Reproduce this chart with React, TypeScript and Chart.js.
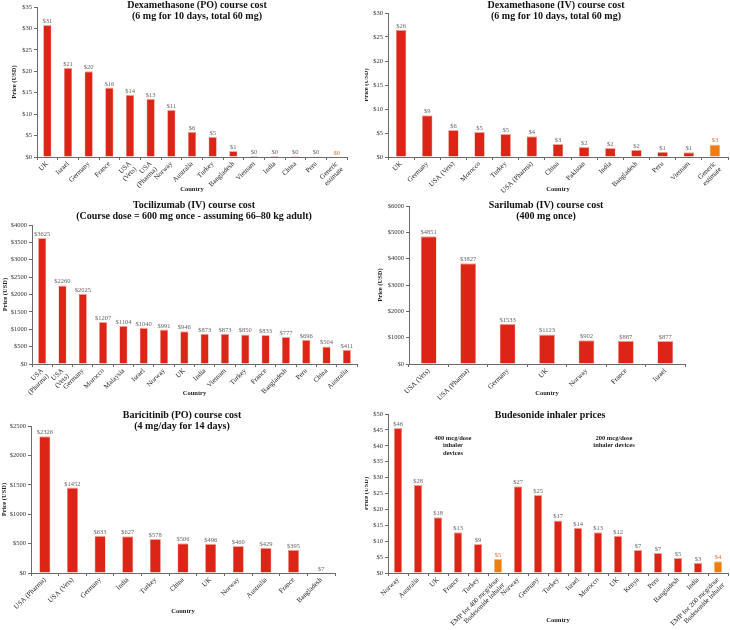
import React, { useEffect, useRef } from "react";
import { Chart, registerables } from "chart.js";

Chart.register(...registerables);

// ---------------- DATA ----------------
const dexPoCategories: (string | string[])[] = ["UK", "Israel", "Germany", "France", ["USA", "(Vets)"], ["USA", "(Pharma)"], "Norway", "Australia", "Turkey", "Bangladesh", "Vietnam", "India", "China", "Peru", ["Generic", "estimate"]];
const dexPoValues = [30.8, 20.8, 20.0, 16.2, 14.5, 13.6, 11.0, 5.9, 4.7, 1.4, 0.3, 0.3, 0.25, 0.2, 0.1];
const dexPoLabels = ["$31", "$21", "$20", "$16", "$14", "$13", "$11", "$6", "$5", "$1", "$0", "$0", "$0", "$0", "$0"];

const dexIvCategories: (string | string[])[] = ["UK", "Germany", "USA (Vets)", "Morocco", "Turkey", "USA (Pharma)", "China", "Pakistan", "India", "Bangladesh", "Peru", "Vietnam", ["Generic", "estimate"]];
const dexIvValues = [26.5, 8.7, 5.6, 5.2, 4.8, 4.3, 2.7, 2.1, 1.9, 1.5, 1.1, 1.0, 2.6];
const dexIvLabels = ["$26", "$9", "$6", "$5", "$5", "$4", "$3", "$2", "$2", "$2", "$1", "$1", "$3"];

const tociCategories: (string | string[])[] = [["USA", "(Pharma)"], ["USA", "(Vets)"], "Germany", "Morocco", "Malaysia", "Israel", "Norway", "UK", "India", "Vietnam", "Turkey", "France", "Bangladesh", "Peru", "China", "Australia"];
const tociValues = [3625, 2260, 2025, 1207, 1104, 1040, 991, 946, 873, 873, 850, 833, 777, 696, 504, 411];
const tociLabels = ["$3625", "$2260", "$2025", "$1207", "$1104", "$1040", "$991", "$946", "$873", "$873", "$850", "$833", "$777", "$696", "$504", "$411"];

const sariCategories: (string | string[])[] = ["USA (Vets)", "USA (Pharma)", "Germany", "UK", "Norway", "France", "Israel"];
const sariValues = [4851, 3827, 1533, 1123, 902, 887, 877];
const sariLabels = ["$4851", "$3827", "$1533", "$1123", "$902", "$887", "$877"];

const bariCategories: (string | string[])[] = ["USA (Pharma)", "USA (Vets)", "Germany", "India", "Turkey", "China", "UK", "Norway", "Australia", "France", "Bangladesh"];
const bariValues = [2326, 1452, 633, 627, 578, 506, 496, 460, 429, 395, 7];
const bariLabels = ["$2326", "$1452", "$633", "$627", "$578", "$506", "$496", "$460", "$429", "$395", "$7"];

const budeCategories: (string | string[])[] = ["Norway", "Australia", "UK", "France", "Turkey", ["EMP for 400 mcg/dose", "Budesonide inhaler"], "Norway", "Germany", "Turkey", "Israel", "Morocco", "UK", "Kenya", "Peru", "Bangladesh", "India", ["EMP for 200 mcg/dose", "Budesonide inhaler"]];
const budeValues = [45.6, 27.7, 17.5, 12.8, 9.1, 4.5, 27.3, 24.5, 16.5, 14.2, 12.8, 11.7, 7.2, 6.3, 4.7, 3.2, 3.7];
const budeLabels = ["$46", "$28", "$18", "$13", "$9", "$5", "$27", "$25", "$17", "$14", "$13", "$12", "$7", "$7", "$5", "$3", "$4"];

// ---------------- STYLE ----------------
const RED = "#dc2417";
const ORANGE = "#ee7e12";
const RED_EDGE = "#f2a79d";
const ORANGE_EDGE = "#f8c48a";
const AXIS = "#6a6a6a";
const FONT = '"Liberation Serif", "DejaVu Serif", serif';

const isHighlight = (c: string | string[]) => {
  const s = Array.isArray(c) ? c.join(" ") : c;
  return s.indexOf("Generic") >= 0 || s.indexOf("EMP") >= 0;
};

type Panel = {
  x: number; y: number; w: number; h: number;
  left: number; top: number; right: number; bottom: number;
  categories: (string | string[])[]; values: number[]; labels: string[];
  max: number; step: number;
  title: string[]; titleX: number; titleY: number;
  yTitleX: number; xTitleY: number;
  notes?: { lines: string[]; x: number; y: number }[];
};

const panels: Panel[] = [
  { x: 0, y: 0, w: 365, h: 200, left: 37, top: 7, right: 347, bottom: 157,
    categories: dexPoCategories, values: dexPoValues, labels: dexPoLabels, max: 35, step: 5,
    title: ["Dexamethasone (PO) course cost", "(6 mg for 10 days, total 60 mg)"], titleX: 197, titleY: 5.5,
    yTitleX: 14, xTitleY: 189 },
  { x: 365, y: 0, w: 365, h: 200, left: 23, top: 13, right: 363, bottom: 157,
    categories: dexIvCategories, values: dexIvValues, labels: dexIvLabels, max: 30, step: 5,
    title: ["Dexamethasone (IV) course cost", "(6 mg for 10 days, total 60 mg)"], titleX: 191, titleY: 5.5,
    yTitleX: 1, xTitleY: 189 },
  { x: 0, y: 200, w: 365, h: 200, left: 32, top: 25, right: 357, bottom: 164,
    categories: tociCategories, values: tociValues, labels: tociLabels, max: 4000, step: 500,
    title: ["Tocilizumab (IV) course cost", "(Course dose = 600 mg once - assuming 66\u201380 kg adult)"], titleX: 194, titleY: 5.5,
    yTitleX: 5, xTitleY: 193 },
  { x: 365, y: 200, w: 365, h: 200, left: 44, top: 6, right: 320, bottom: 164,
    categories: sariCategories, values: sariValues, labels: sariLabels, max: 6000, step: 1000,
    title: ["Sarilumab (IV) course cost", "(400 mg once)"], titleX: 181, titleY: 5.5,
    yTitleX: 15, xTitleY: 193 },
  { x: 0, y: 400, w: 365, h: 230, left: 31, top: 26, right: 335, bottom: 173,
    categories: bariCategories, values: bariValues, labels: bariLabels, max: 2500, step: 500,
    title: ["Baricitinib (PO) course cost", "(4 mg/day for 14 days)"], titleX: 182, titleY: 15,
    yTitleX: 4, xTitleY: 211 },
  { x: 365, y: 400, w: 365, h: 230, left: 23, top: 14, right: 363, bottom: 173,
    categories: budeCategories, values: budeValues, labels: budeLabels, max: 50, step: 5,
    title: ["Budesonide inhaler prices"], titleX: 185, titleY: 15,
    yTitleX: 1, xTitleY: 220,
    notes: [
      { lines: ["400 mcg/dose", "inhaler", "devices"], x: 88, y: 38 },
      { lines: ["200 mcg/dose", "inhaler devices"], x: 249, y: 38 },
    ] },
];

const overlayPlugin = {
  id: "overlay",
  afterDatasetsDraw(chart: any, _args: any, opts: any) {
    const ctx = chart.ctx as CanvasRenderingContext2D;
    const meta = chart.getDatasetMeta(0);
    ctx.save();
    ctx.font = `6.5px ${FONT}`;
    ctx.textAlign = "center";
    ctx.textBaseline = "bottom";
    meta.data.forEach((bar: any, i: number) => {
      ctx.fillStyle = opts.highlight[i] ? "#e0703c" : "#666";
      ctx.fillText(opts.valueLabels[i], bar.x, bar.y - 0.5);
    });
    ctx.fillStyle = "#111";
    ctx.textBaseline = "middle";
    ctx.font = `bold 10px ${FONT}`;
    (opts.title as string[]).forEach((t, i) => ctx.fillText(t, opts.titleX, opts.titleY + i * 11));
    if (opts.notes) {
      ctx.font = `bold 6.5px ${FONT}`;
      ctx.fillStyle = "#222";
      for (const n of opts.notes) {
        n.lines.forEach((l: string, i: number) => ctx.fillText(l, n.x, n.y + i * 7.5));
      }
    }
    ctx.restore();
  },
};

function PanelChart({ p }: { p: Panel }) {
  const ref = useRef<HTMLCanvasElement | null>(null);
  useEffect(() => {
    if (!ref.current) return;
    const highlight = p.categories.map(isHighlight);
    const axisTitleFont = { family: FONT, size: 6.5, weight: "bold" as const, lineHeight: 1.2 };
    const lh = 6.5 * 1.2;
    const chart = new Chart(ref.current, {
      type: "bar",
      data: {
        labels: p.categories as any,
        datasets: [
          {
            data: p.values,
            backgroundColor: highlight.map((h) => (h ? ORANGE : RED)),
            borderColor: highlight.map((h) => (h ? ORANGE_EDGE : RED_EDGE)),
            borderWidth: { top: 1, left: 0.6, right: 0.6, bottom: 0 } as any,
            borderSkipped: "bottom",
            barPercentage: 0.4,
            categoryPercentage: 1,
          },
        ],
      },
      options: {
        responsive: false,
        animation: false,
        devicePixelRatio: 1,
        layout: { padding: { top: p.top, right: p.w - p.right, left: 0, bottom: 0 } },
        plugins: {
          legend: { display: false },
          tooltip: { enabled: false },
          title: { display: false },
          overlay: {
            highlight,
            valueLabels: p.labels,
            title: p.title,
            titleX: p.titleX,
            titleY: p.titleY,
            notes: p.notes,
          },
        } as any,
        scales: {
          x: {
            grid: { drawOnChartArea: false, tickLength: 3, color: AXIS, offset: true },
            border: { color: AXIS, width: 1 },
            ticks: {
              minRotation: 45,
              maxRotation: 45,
              autoSkip: false,
              padding: 0,
              color: "#222",
              font: { family: FONT, size: 7, lineHeight: 1.1 },
            },
            title: {
              display: true,
              text: "Country",
              color: "#222",
              font: axisTitleFont,
              padding: { top: 0, bottom: p.h - p.xTitleY - lh / 2 },
            },
            afterFit: (s: any) => {
              s.height = p.h - p.bottom;
            },
          },
          y: {
            min: 0,
            max: p.max,
            grid: { drawOnChartArea: false, tickLength: 3, color: AXIS },
            border: { color: AXIS, width: 1 },
            ticks: {
              stepSize: p.step,
              padding: 2,
              color: "#333",
              font: { family: FONT, size: 6.5 },
              callback: (v: any) => "$" + v,
            },
            title: {
              display: true,
              text: "Price (USD)",
              color: "#222",
              font: axisTitleFont,
              padding: { top: p.yTitleX - lh / 2, bottom: 0 },
            },
            afterFit: (s: any) => {
              s.width = p.left;
            },
          },
        },
      },
      plugins: [overlayPlugin as any],
    });
    return () => chart.destroy();
  }, [p]);
  return (
    <canvas
      ref={ref}
      width={p.w}
      height={p.h}
      style={{ position: "absolute", left: p.x, top: p.y, width: p.w, height: p.h }}
    />
  );
}

export default function App() {
  return (
    <div style={{ position: "absolute", left: 0, top: 0, width: 730, height: 630, background: "#fff", overflow: "hidden" }}>
      {panels.map((p, i) => (
        <PanelChart key={i} p={p} />
      ))}
    </div>
  );
}
